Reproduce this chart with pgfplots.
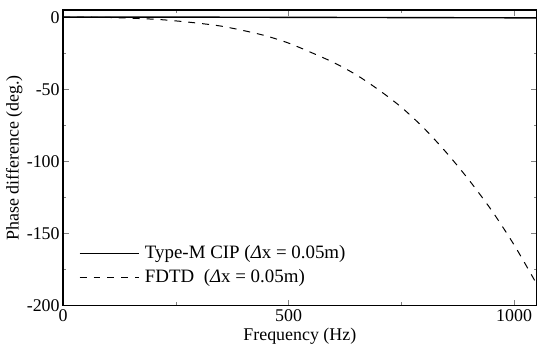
\documentclass[border=0pt]{standalone}
\usepackage{fontspec}
\setmainfont{Liberation Serif}
\usepackage{pgfplots}
\pgfplotsset{compat=1.18}
\begin{document}
\fontsize{9}{11}\selectfont
\begin{tikzpicture}
\begin{axis}[
  scale only axis,
  width=238pt, height=148.5pt,
  xmin=0, xmax=1050, ymin=-200, ymax=5,
  xtick={0,500,1000}, ytick={0,-50,-100,-150,-200},
  minor xtick={250,750}, minor ytick={-25,-75,-125,-175},
  tick align=inside, tick pos=both,
  major tick length=3pt, minor tick length=1.5pt,
  axis line style={line width=0.7pt},
  /pgf/number format/assume math mode=true,
  /pgf/number format/1000 sep={},
  ticklabel style={font=\fontsize{9}{11}\selectfont},
  xticklabel style={yshift=1pt},
  yticklabel style={xshift=1.5pt},
  xlabel={Frequency (Hz)}, ylabel={Phase difference (deg.)},
  xlabel style={yshift=3pt},
  ylabel style={yshift=-4pt},
  legend style={at={(0.02,0.04)}, anchor=south west, draw=none, fill=none,
    font=\fontsize{9.5}{11}\selectfont, row sep=0pt,
    nodes={inner xsep=2.5pt}},
  legend cell align=left,
  legend image code/.code={\draw[#1] (0pt,0pt) -- (30pt,0pt);},
]
\addplot[black, line width=0.7pt] coordinates {(0,0) (300,0) (600,-0.2) (1050,-0.5)};
\addlegendentry{Type-M CIP (\textit{Δ}x = 0.05m)}
\addplot[black, line width=0.5pt, dash pattern=on 3.5pt off 3.5pt, smooth] coordinates {
(0,0) (100,-0.2) (200,-1.4) (250,-2.6) (300,-4.2) (350,-6.2) (400,-9.3) (450,-13)
(500,-18) (550,-24.5) (600,-31.5) (650,-40) (700,-50.5) (750,-62.5) (800,-77)
(850,-94) (900,-113) (950,-134) (1000,-158) (1048,-184)};
\addlegendentry{FDTD\ \ (\textit{Δ}x = 0.05m)}
\end{axis}
\path (current axis.south west) ++(-30.5pt,-23pt);
\path (current axis.north east) ++(0.5pt,5pt);
\end{tikzpicture}
\end{document}
